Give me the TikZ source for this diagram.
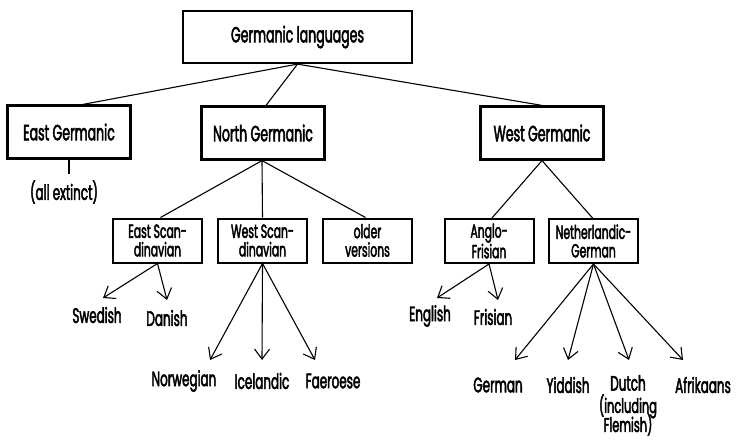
\documentclass[tikz,border=0pt]{standalone}
\usepackage{fontspec}
\setmainfont[FakeStretch=0.57,FakeBold=2.2]{Poppins}
\usetikzlibrary{arrows.meta,positioning}

\tikzset{
  box/.style={draw,line width=2.2pt,minimum width=123pt,minimum height=53pt,inner sep=1pt,align=center},
  subbox/.style={draw,line width=2pt,minimum width=89pt,minimum height=44pt,inner sep=0pt,align=center,
    font=\fontsize{19}{18.5}\selectfont},
  lang/.style={inner sep=1pt,align=center,font=\fontsize{21}{18}\selectfont},
  branch/.style={line width=1.1pt},
  split/.style={-{Straight Barb[length=10pt,width=15pt,line width=1.1pt]},line width=1.1pt}
}

\begin{document}
\begin{tikzpicture}[x=1pt,y=-1pt,font=\fontsize{22}{18}\selectfont]
\useasboundingbox (0,0) rectangle (738,441);
% top of the tree
\node[box,minimum width=229pt,minimum height=52pt] (root) at (297.5,37) {Germanic languages};
\node[box] (east) at (69,132) {East Germanic};
\node[box] (north) at (263,133) {North Germanic};
\node[box] (west) at (542,133) {West Germanic};
\node[lang] (extinct) at (64,192) {(all extinct)};
\draw[branch] (root.south) -- ([xshift=14pt]east.north);
\draw[branch] (root.south) -- ([xshift=3pt]north.north);
\draw[branch] (root.south) -- (west.north);
\draw[branch,shorten >=5pt] (east.south) -- ([xshift=5pt]extinct.north);
% second row
\node[subbox] (escan) at (157.5,240.5) {East Scan-\\dinavian};
\node[subbox] (wscan) at (262.5,240.5) {West Scan-\\dinavian};
\node[subbox] (older) at (367.5,240.5) {older\\versions};
\node[subbox] (anglo) at (489,241) {Anglo-\\Frisian};
\node[subbox] (nether) at (593.5,241) {Netherlandic-\\German};
\draw[branch] ([xshift=-1pt]north.south) -- ([xshift=3pt]escan.north);
\draw[branch] ([xshift=-1pt]north.south) -- (wscan.north);
\draw[branch] ([xshift=-1pt]north.south) -- ([xshift=-2pt]older.north);
\draw[branch] (west.south) -- ([xshift=3pt]anglo.north);
\draw[branch] (west.south) -- ([xshift=-1pt]nether.north);
% the languages
\node[lang] (swedish) at (97,315) {Swedish};
\node[lang] (danish) at (167,318) {Danish};
\node[lang] (norwegian) at (184,381) {Norwegian};
\node[lang] (icelandic) at (262,381) {Icelandic};
\node[lang] (faeroese) at (333,381) {Faeroese};
\node[lang] (english) at (430,316) {English};
\node[lang] (frisian) at (493,317) {Frisian};
\node[lang] (german) at (498,385) {German};
\node[lang] (yiddish) at (568,385) {Yiddish};
\node[lang] (dutch) at (628,383) {Dutch};
\node[lang,inner sep=0pt,font=\fontsize{20}{19}\selectfont\setlength{\lineskiplimit}{-20pt}] (flemish) at (628,415) {(including\\Flemish)};
\node[lang] (afrikaans) at (703,385) {Afrikaans};
\draw[split] (escan.south) -- ([xshift=6pt,yshift=17pt]swedish.center);
\draw[split] (escan.south) -- ([yshift=18pt]danish.center);
\draw[split] (wscan.south) -- ([xshift=26pt,yshift=21pt]norwegian.center);
\draw[split] (wscan.south) -- ([yshift=21pt]icelandic.center);
\draw[split] (wscan.south) -- ([xshift=-18pt,yshift=21pt]faeroese.center);
\draw[split] (anglo.south) -- ([xshift=7pt,yshift=18pt]english.center);
\draw[split] (anglo.south) -- ([xshift=5pt,yshift=17pt]frisian.center);
\draw[split] (nether.south) -- ([xshift=17pt,yshift=25pt]german.center);
\draw[split] (nether.south) -- ([yshift=25pt]yiddish.center);
\draw[split] (nether.south) -- ([xshift=1pt,yshift=23pt]dutch.center);
\draw[split] (nether.south) -- ([xshift=-20pt,yshift=25pt]afrikaans.center);
\end{tikzpicture}
\end{document}
